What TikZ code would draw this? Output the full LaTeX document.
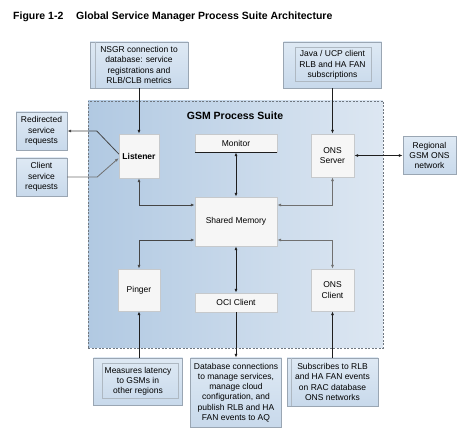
\documentclass[tikz,border=0pt]{standalone}
\usepackage{fontspec}
\setmainfont{Liberation Sans}
\usetikzlibrary{positioning,arrows.meta,calc,shadows}
\definecolor{suiteL}{HTML}{B1C9E2}
\definecolor{suiteR}{HTML}{DDE7F2}
\definecolor{suiteln}{HTML}{6F7780}
\definecolor{notetop}{HTML}{DEE9F4}
\definecolor{notebot}{HTML}{C8D9EB}
\definecolor{noteln}{HTML}{9AA6B3}
\definecolor{partbg}{HTML}{F6F6F6}
\definecolor{partln}{HTML}{C6C9CC}
\definecolor{ink}{HTML}{1E1E1E}
\definecolor{dim}{HTML}{454545}
\definecolor{grey}{HTML}{707070}
\tikzset{
  note/.style={draw=noteln,top color=notetop,bottom color=notebot,inner sep=0pt,align=center,
    font=\fontsize{8.5}{10.2}\selectfont,drop shadow={shadow xshift=0.8pt,shadow yshift=-0.8pt,opacity=0.25}},
  part/.style={draw=partln,fill=partbg,inner sep=0pt,align=center,font=\fontsize{8.5}{10.2}\selectfont,
    drop shadow={shadow xshift=0.6pt,shadow yshift=-0.6pt,opacity=0.15}},
  suite/.style={draw=suiteln,dash pattern=on 2pt off 1.5pt,left color=suiteL,right color=suiteR,inner sep=0pt},
  arr/.style={-{Latex[length=4pt,width=3pt]},line width=0.8pt,ink},
  dbl/.style={{Latex[length=4pt,width=3pt]}-{Latex[length=4pt,width=3pt]},line width=0.8pt,ink},
  deco/.style={noteln!80,line width=0.5pt},
}

\begin{document}
\begin{tikzpicture}[x=1pt,y=-1pt]
\useasboundingbox (0,0) rectangle (467,428);
% caption
\node[anchor=west,font=\bfseries\fontsize{10.5}{12}\selectfont,inner sep=0pt] (fig) at (13,17) {Figure 1-2};
\node[anchor=west,font=\bfseries\fontsize{10.5}{12}\selectfont,inner sep=0pt] (cap) at (76,17) {Global Service Manager Process Suite Architecture};
% suite area
\node[suite,minimum width=295pt,minimum height=247pt] (gsm) at (235.5,224.5) {};
\node[font=\bfseries\fontsize{10.5}{12}\selectfont] (gsmt) at (235,116) {GSM Process Suite};
% notes outside
\node[note,minimum width=98pt,minimum height=46pt] (nsgr) at (139,65) {NSGR connection to\\database: service\\registrations and\\RLB/CLB metrics};
\node[note,minimum width=98pt,minimum height=46pt] (java) at (332.5,65) {Java / UCP client\\RLB and HA FAN\\subscriptions};
\node[note,minimum width=51pt,minimum height=38pt] (red) at (41.5,131) {Redirected\\service\\requests};
\node[note,minimum width=51pt,minimum height=38pt] (cli) at (41.5,177) {Client\\service\\requests};
\node[note,minimum width=53pt,minimum height=38pt] (reg) at (429.5,155.5) {Regional\\GSM ONS\\network};
\node[note,minimum width=89pt,minimum height=47pt] (mea) at (138,381.5) {Measures latency\\to GSMs in\\other regions};
\node[note,minimum width=91pt,minimum height=69pt] (dbc) at (236,392.5) {Database connections\\to manage services,\\manage cloud\\configuration, and\\publish RLB and HA\\FAN events to AQ};
\node[note,minimum width=91pt,minimum height=48pt] (sub) at (332.5,382) {Subscribes to RLB\\and HA FAN events\\on RAC database\\ONS networks};
% inner rules of the notes
\draw[deco] ([xshift=5pt]nsgr.north west) -- ([xshift=5pt]nsgr.south west);
\draw[deco] ([xshift=4pt]sub.north west) -- ([xshift=4pt]sub.south west);
\draw[deco] ([shift={(12pt,-5pt)}]java.north west) rectangle ([shift={(-10pt,7pt)}]java.south east);
\draw[deco] ([shift={(9pt,-5pt)}]mea.north west) rectangle ([shift={(-4pt,7pt)}]mea.south east);
% processes
\node[part,minimum width=40pt,minimum height=44pt,font=\bfseries\fontsize{8.5}{10.2}\selectfont] (lis) at (139,156) {Listener};
\node[part,minimum width=82pt,minimum height=18pt] (mon) at (236,143) {Monitor};
\draw[ink,line width=0.8pt] (mon.south west) -- (mon.south east);
\node[part,minimum width=43pt,minimum height=43pt] (onss) at (332.5,155.5) {ONS\\Server};
\node[part,minimum width=82pt,minimum height=49pt] (shm) at (236,221.5) {Shared Memory};
\node[part,minimum width=42pt,minimum height=42pt] (pin) at (139,290) {Pinger};
\node[part,minimum width=82pt,minimum height=19pt] (oci) at (236,302.5) {OCI Client};
\node[part,minimum width=43pt,minimum height=42pt] (onsc) at (332.5,290) {ONS\\Client};
% connectors
\draw[arr] (nsgr.south) -- (lis.north);
\draw[arr] (java.south) -- (onss.north);
\draw[arr,dim] ([yshift=2pt]lis.west) -- ++(-22,-23) -- (red.east);
\draw[arr,grey] (cli.east) -- ++(30,0) -- ([yshift=-2pt]lis.west);
\draw[dbl,dim] (lis.south) |- ([yshift=16.5pt]shm.west);
\draw[dbl] (mon.south) -- (shm.north);
\draw[dbl,grey] (onss.south) |- ([yshift=16.5pt]shm.east);
\draw[dbl] (onss.east) -- (reg.west);
\draw[dbl,dim] ([yshift=-18.5pt]shm.west) -| (pin.north);
\draw[dbl,grey] ([yshift=-18.5pt]shm.east) -| (onsc.north);
\draw[dbl] (shm.south) -- (oci.north);
\draw[arr] (pin.south |- mea.north) -- (pin.south);
\draw[arr] (oci.south) -- (dbc.north);
\draw[arr] (sub.north) -- (onsc.south);
\end{tikzpicture}
\end{document}
